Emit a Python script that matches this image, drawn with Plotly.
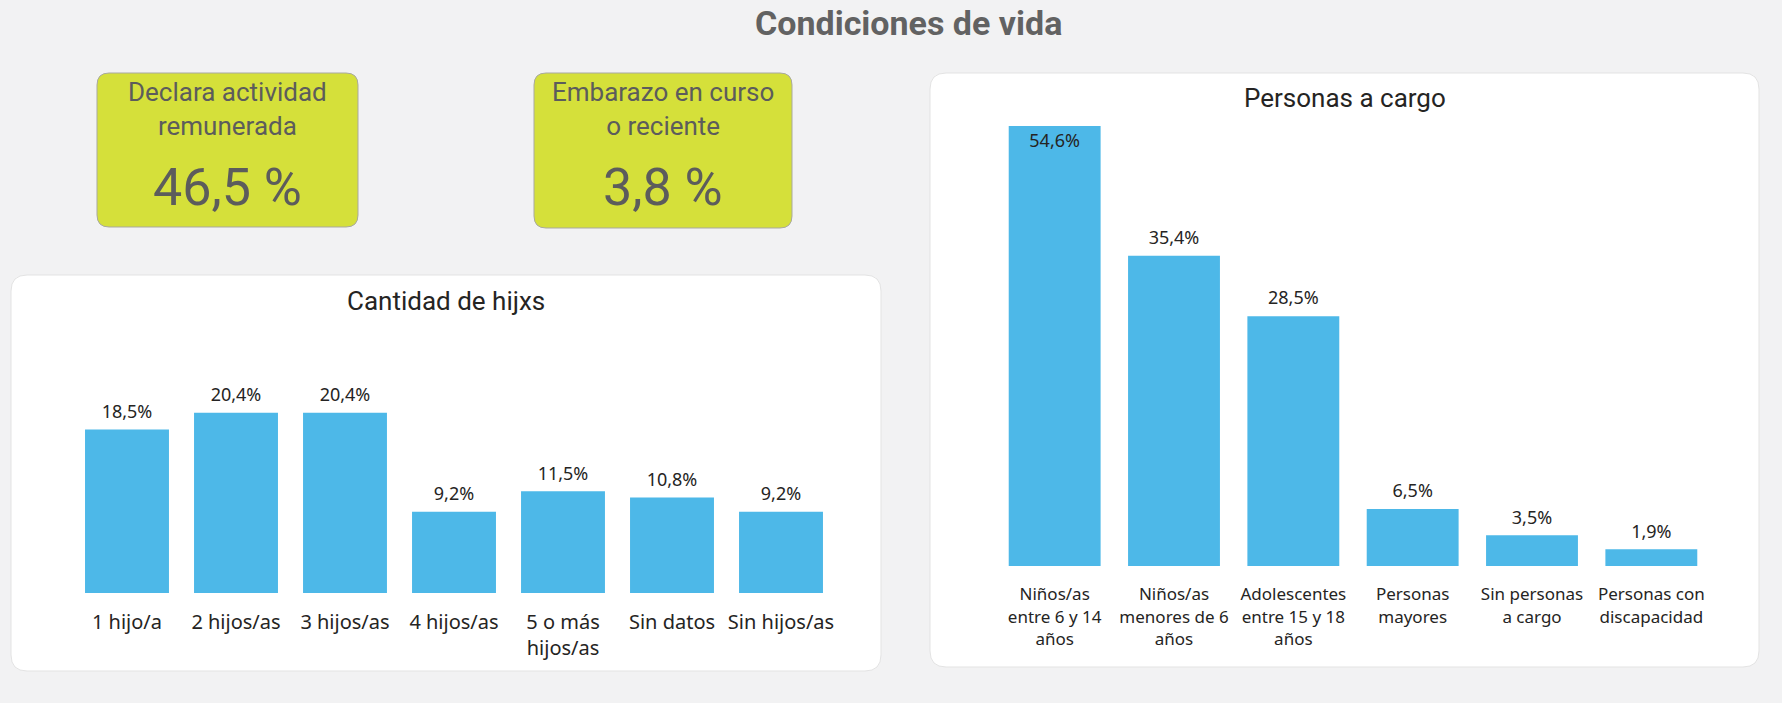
import plotly.graph_objects as go

# ---------------- data ----------------
hijos_cats = ["1 hijo/a", "2 hijos/as", "3 hijos/as", "4 hijos/as", "5 o más hijos/as", "Sin datos", "Sin hijos/as"]
hijos_ticks = ["1 hijo/a", "2 hijos/as", "3 hijos/as", "4 hijos/as", "5 o más<br>hijos/as", "Sin datos", "Sin hijos/as"]
hijos_vals = [18.5, 20.4, 20.4, 9.2, 11.5, 10.8, 9.2]

cargo_cats = ["Niños/as entre 6 y 14 años", "Niños/as menores de 6 años", "Adolescentes entre 15 y 18 años",
              "Personas mayores", "Sin personas a cargo", "Personas con discapacidad"]
cargo_ticks = ["Niños/as<br>entre 6 y 14<br>años", "Niños/as<br>menores de 6<br>años", "Adolescentes<br>entre 15 y 18<br>años",
               "Personas<br>mayores", "Sin personas<br>a cargo", "Personas con<br>discapacidad"]
cargo_vals = [54.6, 35.4, 28.5, 6.5, 3.5, 1.9]

kpi_titles = ["Declara actividad<br>remunerada", "Embarazo en curso<br>o reciente"]
kpi_vals = [46.5, 3.8]

main_title = "Condiciones de vida"
hijos_title = "Cantidad de hijxs"
cargo_title = "Personas a cargo"

# ---------------- layout helpers ----------------
W, H = 1782, 703
BAR = "#4DB8E8"
DARK = "#252423"
GRAY = "#5c5c5c"
TITLE_FONT = "Roboto"
LABEL_FONT = "Noto Sans"

def fx(x):
    return x / W

def fy(y):
    return 1 - y / H

def fmt(v):
    return f"{v:.1f}".replace(".", ",") + "%"

def rounded(x0, y0, x1, y1, r):
    def P(x, y):
        return f"{fx(x)},{fy(y)}"
    return (f"M {P(x0 + r, y0)} L {P(x1 - r, y0)} Q {P(x1, y0)} {P(x1, y0 + r)} "
            f"L {P(x1, y1 - r)} Q {P(x1, y1)} {P(x1 - r, y1)} "
            f"L {P(x0 + r, y1)} Q {P(x0, y1)} {P(x0, y1 - r)} "
            f"L {P(x0, y0 + r)} Q {P(x0, y0)} {P(x0 + r, y0)} Z")

fig = go.Figure()

# ---------- left chart: Cantidad de hijxs ----------
left_ymax = 29.75
fig.add_trace(go.Bar(x=hijos_cats, y=hijos_vals, marker_color=BAR, marker_line_width=0,
                     xaxis="x", yaxis="y", hoverinfo="x+y", showlegend=False))
fig.add_trace(go.Scatter(x=hijos_cats, y=[min(v, left_ymax) for v in hijos_vals],
                         text=[fmt(v) for v in hijos_vals], mode="markers+text",
                         textposition=["top center" if v < left_ymax else "bottom center" for v in hijos_vals],
                         marker=dict(size=10, color="rgba(0,0,0,0)"),
                         textfont=dict(family=LABEL_FONT, size=18, color=DARK),
                         xaxis="x", yaxis="y", hoverinfo="skip", showlegend=False, cliponaxis=False))

# ---------- right chart: Personas a cargo ----------
right_ymax = 50.2
fig.add_trace(go.Bar(x=cargo_cats, y=cargo_vals, marker_color=BAR, marker_line_width=0,
                     xaxis="x2", yaxis="y2", hoverinfo="x+y", showlegend=False))
fig.add_trace(go.Scatter(x=cargo_cats, y=[min(v, right_ymax) for v in cargo_vals],
                         text=[fmt(v) for v in cargo_vals], mode="markers+text",
                         textposition=["top center" if v < right_ymax else "bottom center" for v in cargo_vals],
                         marker=dict(size=10, color="rgba(0,0,0,0)"),
                         textfont=dict(family=LABEL_FONT, size=18, color=DARK),
                         xaxis="x2", yaxis="y2", hoverinfo="skip", showlegend=False, cliponaxis=False))

axis_common = dict(showgrid=False, zeroline=False, showline=False)

fig.update_layout(
    width=W, height=H,
    margin=dict(l=0, r=0, t=0, b=0),
    paper_bgcolor="#f2f2f3",
    plot_bgcolor="rgba(0,0,0,0)",
    bargap=0.23,
    xaxis=dict(domain=[fx(72.5), fx(835.5)], anchor="y", tickmode="array",
               tickvals=hijos_cats, ticktext=hijos_ticks, ticks="outside", ticklen=11,
               tickcolor="rgba(0,0,0,0)", tickfont=dict(family=LABEL_FONT, size=20, color=DARK),
               range=[-0.5, len(hijos_cats) - 0.5], **axis_common),
    yaxis=dict(domain=[fy(593), fy(330)], anchor="x", range=[0, left_ymax],
               showticklabels=False, **axis_common),
    xaxis2=dict(domain=[fx(995), fx(1711)], anchor="y2", tickmode="array",
                tickvals=cargo_cats, ticktext=cargo_ticks, ticks="outside", ticklen=13,
                tickcolor="rgba(0,0,0,0)", tickfont=dict(family=LABEL_FONT, size=17, color=DARK),
                range=[-0.5, len(cargo_cats) - 0.5], **axis_common),
    yaxis2=dict(domain=[fy(566), fy(126)], anchor="x2", range=[0, right_ymax],
                showticklabels=False, **axis_common),
)

shapes = []
shapes.append(dict(type="path", path=rounded(11, 275, 881, 671, 16), xref="paper", yref="paper",
                   fillcolor="white", line=dict(color="#e3e3e3", width=1), layer="below"))
shapes.append(dict(type="path", path=rounded(930, 73, 1759, 667, 16), xref="paper", yref="paper",
                   fillcolor="white", line=dict(color="#e3e3e3", width=1), layer="below"))
kpi_boxes = [(97, 73, 358, 227), (534, 73, 792, 228)]
for (x0, y0, x1, y1) in kpi_boxes:
    shapes.append(dict(type="path", path=rounded(x0, y0, x1, y1, 12), xref="paper", yref="paper",
                       fillcolor="#D5E03A", line=dict(color="#a9a9a0", width=1), layer="below"))
fig.update_layout(shapes=shapes)

annotations = [
    dict(text=f"<b>{main_title}</b>", x=fx(909), y=fy(23), xref="paper", yref="paper",
         showarrow=False, xanchor="center", yanchor="middle",
         font=dict(family=TITLE_FONT, size=34, color="#626262")),
    dict(text=hijos_title, x=fx(446), y=fy(301), xref="paper", yref="paper",
         showarrow=False, xanchor="center", yanchor="middle",
         font=dict(family=TITLE_FONT, size=26, color=DARK)),
    dict(text=cargo_title, x=fx(1345), y=fy(98), xref="paper", yref="paper",
         showarrow=False, xanchor="center", yanchor="middle",
         font=dict(family=TITLE_FONT, size=26, color=DARK)),
]
for (x0, y0, x1, y1), t, v in zip(kpi_boxes, kpi_titles, kpi_vals):
    cx = (x0 + x1) / 2
    annotations.append(dict(text=t, x=fx(cx), y=fy(109), xref="paper", yref="paper",
                            showarrow=False, xanchor="center", yanchor="middle",
                            font=dict(family=TITLE_FONT, size=26, color=GRAY)))
    annotations.append(dict(text=f"{v:.1f}".replace(".", ",") + " %", x=fx(cx), y=fy(187),
                            xref="paper", yref="paper", showarrow=False,
                            xanchor="center", yanchor="middle",
                            font=dict(family=TITLE_FONT, size=52, color=GRAY)))
fig.update_layout(annotations=annotations)

fig.write_html("out.html", config={"displayModeBar": False},
               post_script="document.body.style.margin='0';document.body.style.overflow='hidden';")
